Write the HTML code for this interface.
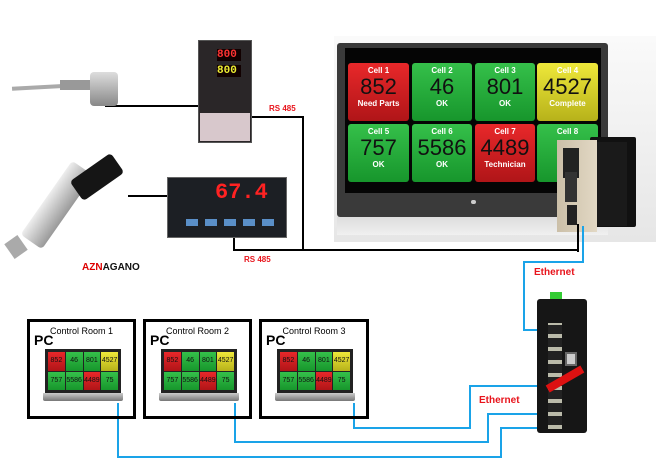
<!DOCTYPE html>
<html><head><meta charset="utf-8"><style>
*{margin:0;padding:0;box-sizing:border-box}
body{width:656px;height:466px;background:#fff;position:relative;overflow:hidden;font-family:"Liberation Sans",sans-serif}
.a{position:absolute}
.t{position:absolute;border-radius:3px;color:#fff;text-align:center;font-weight:bold}
.g{background:linear-gradient(#35c04a,#17962c)}
.r{background:linear-gradient(#e8282a,#b01518)}
.y{background:linear-gradient(#eee83a,#b7b21a)}
.t b{display:block;font-size:8px;margin-top:3px}
.t i{display:block;font-style:normal;font-weight:normal;color:#111;font-size:22px;line-height:24px}
.t u{display:block;text-decoration:none;font-size:8px}
.box{position:absolute;border:3px solid #000;height:100px;top:319px}
.pc{position:absolute;left:4px;top:10px;font-weight:bold;font-size:14px}
.cr{position:absolute;top:4px;width:100%;text-align:center;font-size:9px}
.lap{position:absolute;left:13px;top:27px;width:80px;height:57px}
.lap .sc{position:absolute;left:2px;top:0;width:76px;height:44px;background:#222;padding:3px;display:grid;grid-template-columns:repeat(4,1fr);gap:1px}
.lap .sc div{font-size:7px;color:#111;text-align:center;line-height:17px}
.lap .bs{position:absolute;left:0;top:44px;width:80px;height:8px;background:linear-gradient(#ccc,#777);border-radius:0 0 2px 2px}
.bl{position:absolute;background:#1aa3e8}
.bk{position:absolute;background:#000}
.red{position:absolute;color:#e8141c;font-weight:bold}
</style></head><body>

<!-- monitor -->
<div class="a" style="left:334px;top:36px;width:322px;height:206px;background:linear-gradient(#fafafa,#e6e6e6)"></div>
<div class="a" style="left:337px;top:43px;width:271px;height:174px;background:#3a3a3a;border-radius:3px"></div>
<div class="a" style="left:345px;top:48px;width:256px;height:145px;background:#050505"></div>
<div class="a" style="left:337px;top:217px;width:271px;height:18px;background:linear-gradient(#ddd,#f0f0f0)"></div>
<div class="t r" style="left:348px;top:63px;width:61px;height:58px"><b>Cell 1</b><i>852</i><u>Need Parts</u></div>
<div class="t g" style="left:412px;top:63px;width:60px;height:58px"><b>Cell 2</b><i>46</i><u>OK</u></div>
<div class="t g" style="left:475px;top:63px;width:60px;height:58px"><b>Cell 3</b><i>801</i><u>OK</u></div>
<div class="t y" style="left:537px;top:63px;width:61px;height:58px"><b>Cell 4</b><i>4527</i><u>Complete</u></div>
<div class="t g" style="left:348px;top:124px;width:61px;height:58px"><b>Cell 5</b><i>757</i><u>OK</u></div>
<div class="t g" style="left:412px;top:124px;width:60px;height:58px"><b>Cell 6</b><i>5586</i><u>OK</u></div>
<div class="t r" style="left:475px;top:124px;width:60px;height:58px"><b>Cell 7</b><i>4489</i><u>Technician</u></div>
<div class="t g" style="left:537px;top:124px;width:61px;height:58px"><b>Cell 8</b></div>
<div class="a" style="left:471px;top:200px;width:5px;height:4px;background:#ccc;border-radius:2px"></div>

<!-- controller -->
<div class="a" style="left:590px;top:137px;width:46px;height:90px;background:#111;border-radius:2px"></div>
<div class="a" style="left:557px;top:140px;width:40px;height:92px;background:linear-gradient(90deg,#cbbfa8,#e2d8c4)"></div>
<div class="a" style="left:563px;top:148px;width:16px;height:30px;background:#222"></div>
<div class="a" style="left:565px;top:172px;width:12px;height:30px;background:#333"></div>
<div class="a" style="left:567px;top:205px;width:10px;height:20px;background:#222"></div>
<div class="a" style="left:597px;top:142px;width:30px;height:84px;background:#1a1a1a"></div>

<!-- wires black -->
<div class="bk" style="left:577px;top:224px;width:2px;height:28px"></div>
<div class="bk" style="left:233px;top:249px;width:346px;height:2px"></div>
<div class="bk" style="left:302px;top:116px;width:2px;height:135px"></div>
<div class="bk" style="left:250px;top:116px;width:54px;height:2px"></div>
<div class="bk" style="left:233px;top:237px;width:2px;height:14px"></div>
<div class="bk" style="left:105px;top:105px;width:95px;height:2px"></div>
<div class="bk" style="left:128px;top:195px;width:40px;height:2px"></div>
<div class="red" style="left:269px;top:104px;font-size:8px">RS 485</div>
<div class="red" style="left:244px;top:255px;font-size:8px">RS 485</div>

<!-- temp controller -->
<div class="a" style="left:198px;top:40px;width:54px;height:103px;background:#2a2628;border:1px solid #555"></div>
<div class="a" style="left:217px;top:49px;width:24px;height:12px;background:#100;color:#f33;font:bold 11px 'Liberation Mono',monospace;line-height:12px">800</div>
<div class="a" style="left:217px;top:65px;width:24px;height:12px;background:#100;color:#ee3;font:bold 11px 'Liberation Mono',monospace;line-height:12px">800</div>
<div class="a" style="left:200px;top:113px;width:50px;height:28px;background:#d8c8cc"></div>

<!-- display meter -->
<div class="a" style="left:167px;top:177px;width:120px;height:61px;background:#1c1f24;border:1px solid #666"></div>
<div class="a" style="left:215px;top:181px;width:50px;height:24px;color:#f22;font:bold 22px 'Liberation Mono',monospace;line-height:24px">67.4</div>
<div class="a" style="left:186px;top:219px;width:88px;height:7px;background:repeating-linear-gradient(90deg,#5a8fc8 0 12px,transparent 12px 19px)"></div>

<!-- thermometer -->
<div class="a" style="left:12px;top:85px;width:65px;height:4px;background:#aaa;transform:rotate(-3deg)"></div>
<div class="a" style="left:60px;top:80px;width:40px;height:10px;background:#999"></div>
<div class="a" style="left:90px;top:72px;width:28px;height:34px;background:linear-gradient(#ddd,#888);border-radius:4px"></div>

<!-- pressure sensor -->
<div class="a" style="left:12px;top:192px;width:90px;height:26px;background:linear-gradient(#eee,#999);transform:rotate(-55deg);border-radius:4px"></div>
<div class="a" style="left:72px;top:165px;width:50px;height:24px;background:#151515;transform:rotate(-35deg);border-radius:4px"></div>
<div class="a" style="left:8px;top:238px;width:16px;height:18px;background:#aaa;transform:rotate(-35deg)"></div>
<div class="a" style="left:82px;top:262px;font:bold 10px 'Liberation Sans',sans-serif;color:#111"><span style="color:#d00">AZN</span>AGANO</div>

<!-- blue ethernet to switch -->
<div class="bl" style="left:582px;top:226px;width:2px;height:37px"></div>
<div class="bl" style="left:523px;top:261px;width:61px;height:2px"></div>
<div class="bl" style="left:523px;top:261px;width:2px;height:70px"></div>
<div class="bl" style="left:523px;top:329px;width:14px;height:2px"></div>
<div class="red" style="left:534px;top:267px;font-size:10px">Ethernet</div>

<!-- switch -->
<div class="a" style="left:550px;top:292px;width:12px;height:9px;background:#3c3"></div>
<div class="a" style="left:537px;top:299px;width:50px;height:134px;background:#161616;border-radius:3px"></div>
<div class="a" style="left:548px;top:323px;width:14px;height:106px;background:repeating-linear-gradient(#bba 0 2px,#222 2px 11px,#bba 11px 13px)"></div>
<div class="a" style="left:565px;top:352px;width:12px;height:14px;background:#ccc;border:2px solid #666"></div>
<div class="a" style="left:545px;top:375px;width:40px;height:8px;background:#d11;transform:rotate(-30deg)"></div>

<!-- bottom blue lines -->
<div class="bl" style="left:117px;top:403px;width:2px;height:55px"></div>
<div class="bl" style="left:117px;top:456px;width:385px;height:2px"></div>
<div class="bl" style="left:500px;top:427px;width:2px;height:31px"></div>
<div class="bl" style="left:500px;top:427px;width:37px;height:2px"></div>
<div class="bl" style="left:234px;top:403px;width:2px;height:40px"></div>
<div class="bl" style="left:234px;top:441px;width:255px;height:2px"></div>
<div class="bl" style="left:487px;top:413px;width:2px;height:30px"></div>
<div class="bl" style="left:487px;top:413px;width:50px;height:2px"></div>
<div class="bl" style="left:353px;top:403px;width:2px;height:26px"></div>
<div class="bl" style="left:353px;top:427px;width:118px;height:2px"></div>
<div class="bl" style="left:469px;top:385px;width:2px;height:44px"></div>
<div class="bl" style="left:469px;top:385px;width:68px;height:2px"></div>
<div class="red" style="left:479px;top:395px;font-size:10px">Ethernet</div>

<!-- PC boxes -->
<div class="box" style="left:27px;width:109px"><div class="pc">PC</div><div class="cr">Control Room 1</div>
<div class="lap"><div class="sc"><div class="r">852</div><div class="g">46</div><div class="g">801</div><div class="y">4527</div><div class="g">757</div><div class="g">5586</div><div class="r">4489</div><div class="g">75</div></div><div class="bs"></div></div></div>
<div class="box" style="left:143px;width:109px"><div class="pc">PC</div><div class="cr">Control Room 2</div>
<div class="lap"><div class="sc"><div class="r">852</div><div class="g">46</div><div class="g">801</div><div class="y">4527</div><div class="g">757</div><div class="g">5586</div><div class="r">4489</div><div class="g">75</div></div><div class="bs"></div></div></div>
<div class="box" style="left:259px;width:110px"><div class="pc">PC</div><div class="cr">Control Room 3</div>
<div class="lap"><div class="sc"><div class="r">852</div><div class="g">46</div><div class="g">801</div><div class="y">4527</div><div class="g">757</div><div class="g">5586</div><div class="r">4489</div><div class="g">75</div></div><div class="bs"></div></div></div>

</body></html>
